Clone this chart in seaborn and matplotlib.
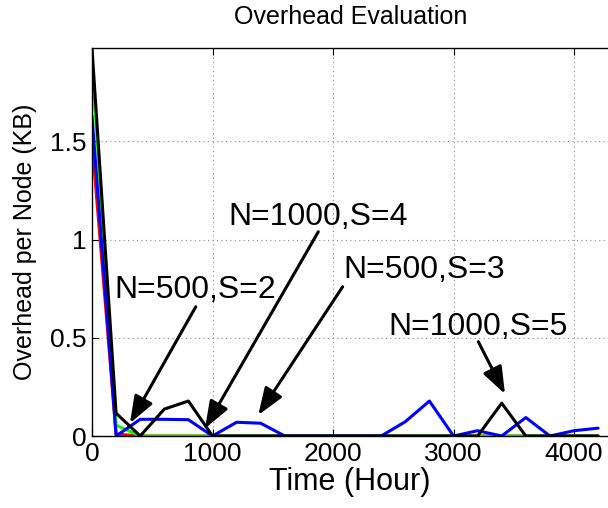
import numpy as np
import pandas as pd
import matplotlib
matplotlib.use('Agg')
import matplotlib.pyplot as plt
import seaborn as sns

# --- data ---
hours = [0, 200, 400, 600, 800, 1000, 1200, 1400, 1600, 1800, 2000,
         2200, 2400, 2600, 2800, 3000, 3200, 3400, 3600, 3800, 4000, 4200]

red_kb = [1.50, 0.01, 0, 0, 0, 0, 0, 0, 0, 0, 0,
          0, 0, 0, 0, 0, 0, 0, 0, 0, 0, 0]
green_kb = [1.90, 0.055, 0, 0, 0, 0, 0, 0, 0, 0, 0,
            0, 0, 0, 0, 0, 0, 0, 0, 0, 0, 0]
blue_kb = [1.629, 0, 0.085, 0.085, 0.083, 0, 0.070, 0.065, 0, 0, 0,
           0, 0, 0.073, 0.178, 0, 0.027, 0, 0.094, 0, 0.027, 0.040]
black_kb = [1.974, 0.116, 0, 0.137, 0.178, 0, 0, 0, 0, 0, 0,
            0, 0, 0, 0, 0, 0, 0.167, 0, 0, 0, 0]

series_names = ['red', 'green', 'blue', 'black']
series_colors = ['#ff0000', '#00ff00', '#0000ff', '#000000']

# annotation labels: text anchor (left, baseline), arrow tail, arrow tip
ann_labels = ['N=500,S=2', 'N=1000,S=4', 'N=500,S=3', 'N=1000,S=5']
ann_text_xy = [(183, 0.701), (1131, 1.074), (2086, 0.803), (2456, 0.514)]
ann_tail_xy = [(861, 0.658), (1878, 1.040), (2080, 0.760), (3206, 0.480)]
ann_tip_xy = [(315, 0.065), (938, 0.039), (1380, 0.107), (3427, 0.214)]

df = pd.DataFrame({'hour': hours, 'red': red_kb, 'green': green_kb,
                   'blue': blue_kb, 'black': black_kb})
long_df = df.melt(id_vars='hour', var_name='series', value_name='kb')

sns.set_style('ticks')
plt.rcParams['font.family'] = ['Liberation Sans', 'DejaVu Sans']
plt.rcParams.update({'text.color': 'black', 'axes.labelcolor': 'black',
                     'xtick.color': 'black', 'ytick.color': 'black'})

fig = plt.figure(figsize=(6.08, 5.08), dpi=100)
ax = fig.add_axes([92 / 608, 72 / 508, 516 / 608, 387.7 / 508])

sns.lineplot(data=long_df, x='hour', y='kb', hue='series',
             hue_order=series_names, palette=series_colors,
             estimator=None, sort=False, lw=2.2, legend=False, ax=ax)

ax.set_xlim(0, 4282)
ax.set_ylim(0, 1.974)
ax.set_xticks([0, 1000, 2000, 3000, 4000])
ax.set_yticks([0, 0.5, 1, 1.5])
ax.set_yticklabels(['0', '0.5', '1', '1.5'])
ax.grid(True, linestyle=(0, (1, 3)), color='#888888', lw=0.8)
ax.set_axisbelow(True)
ax.tick_params(direction='in', length=5, width=0.8, labelsize=19,
               top=True, pad=4)
ax.spines['right'].set_visible(False)
for s in ['left', 'bottom', 'top']:
    ax.spines[s].set_linewidth(1.0)
    ax.spines[s].set_color('black')

ax.set_xlabel('Time (Hour)', fontsize=22, labelpad=1)
ax.set_ylabel('Overhead per Node (KB)', fontsize=18, labelpad=9)
fig.text(351 / 608, 1 - 17 / 508, 'Overhead Evaluation', fontsize=18,
         ha='center', va='center')

for lab, txy, tail, tip in zip(ann_labels, ann_text_xy, ann_tail_xy, ann_tip_xy):
    ax.text(txy[0], txy[1], lab, fontsize=23, ha='left', va='baseline')
    ax.annotate('', xy=tip, xytext=tail,
                arrowprops=dict(arrowstyle='-|>,head_length=0.75,head_width=0.28',
                                color='black', lw=2.2, mutation_scale=22,
                                shrinkA=0, shrinkB=0))

fig.savefig('out.png', dpi=100, facecolor='white')
